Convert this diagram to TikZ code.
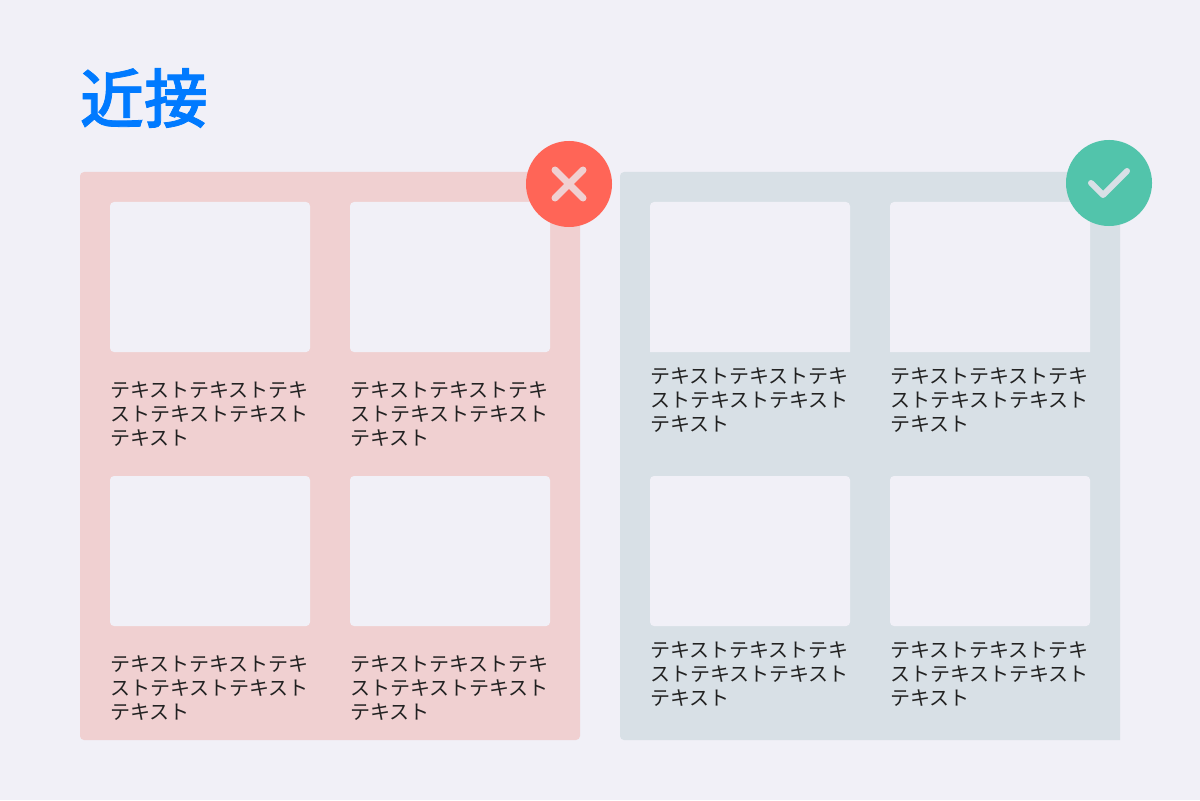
\documentclass[tikz,border=0pt]{standalone}
\usepackage{fontspec}
\setmainfont{Noto Sans CJK JP}
\newfontfamily\headfont[FakeBold=1.2]{Noto Sans CJK JP Medium}
\definecolor{pagebg}{HTML}{F1F0F7}
\definecolor{panelred}{HTML}{F0D0D1}
\definecolor{panelblue}{HTML}{D8E0E6}
\definecolor{badgered}{HTML}{FF6557}
\definecolor{badgegreen}{HTML}{52C4AB}
\definecolor{headblue}{HTML}{007AFF}
\definecolor{bodyink}{HTML}{222222}
\tikzset{
  every node/.style={outer sep=0},
  thumb/.style={fill=pagebg, rounded corners=0.1cm, inner sep=0, minimum width=5cm, minimum height=3.75cm, anchor=north west},
  caption/.style={anchor=north west, inner sep=0, align=left, text=bodyink, font=\fontsize{14.23pt}{17.07pt}\selectfont},
  badge/.style={circle, inner sep=0, minimum size=2.15cm},
  glyph/.style={line width=0.175cm, line cap=round, line join=round}
}
\newcommand{\lorem}{テキストテキストテキ\\ストテキストテキスト\\テキスト}
\begin{document}
\begin{tikzpicture}[x=0.025cm, y=-0.025cm]
                    \useasboundingbox (0,0) rectangle (1200,800);
                    \fill[pagebg] (0,0) rectangle (1200,800);
                    % Heading
                    \node[anchor=west, inner sep=0, text=headblue, font=\fontsize{45.5pt}{54pt}\selectfont\headfont] (heading) at (80,98) {近接};
                    % Panels
                    \fill[panelred, rounded corners=0.1cm] (80,172) rectangle (580,740);
                    \fill[panelblue] (1120,172) [rounded corners=0.1cm] -- (620,172) -- (620,740) [sharp corners] -- (1120,740) -- cycle;
                    % Left panel
                    \node[thumb] (redA) at (110,202) {};
                    \node[thumb] (redB) at (350,202) {};
                    \node[thumb] (redC) at (110,476) {};
                    \node[thumb] (redD) at (350,476) {};
                    \node[caption] (capRedA) at (110,382) {\lorem};
                    \node[caption] (capRedB) at (350,382) {\lorem};
                    \node[caption] (capRedC) at (110,656) {\lorem};
                    \node[caption] (capRedD) at (350,656) {\lorem};
                    % Right panel
                    \fill[pagebg] (650,352) [rounded corners=0.1cm] -- (650,202) -- (850,202) [sharp corners] -- (850,352) -- cycle;
                    \fill[pagebg] (890,352) [rounded corners=0.1cm] -- (890,202) -- (1090,202) [sharp corners] -- (1090,352) -- cycle;
                    \node[thumb] (blueC) at (650,476) {};
                    \node[thumb] (blueD) at (890,476) {};
                    \node[caption] (capBlueA) at (650,368) {\lorem};
                    \node[caption] (capBlueB) at (890,368) {\lorem};
                    \node[caption] (capBlueC) at (650,642) {\lorem};
                    \node[caption] (capBlueD) at (890,642) {\lorem};
                    % Badges
                    \node[badge, fill=badgered] (cross) at (569,184) {};
                    \node[badge, fill=badgegreen] (check) at (1109,183) {};
                    \draw[glyph, panelred] (555,170) -- (583,198);
                    \draw[glyph, panelred] (583,170) -- (555,198);
                    \draw[glyph, panelblue, line width=0.15cm] (1091,183) -- (1103,195) -- (1127,171);
                \end{tikzpicture}
\end{document}
